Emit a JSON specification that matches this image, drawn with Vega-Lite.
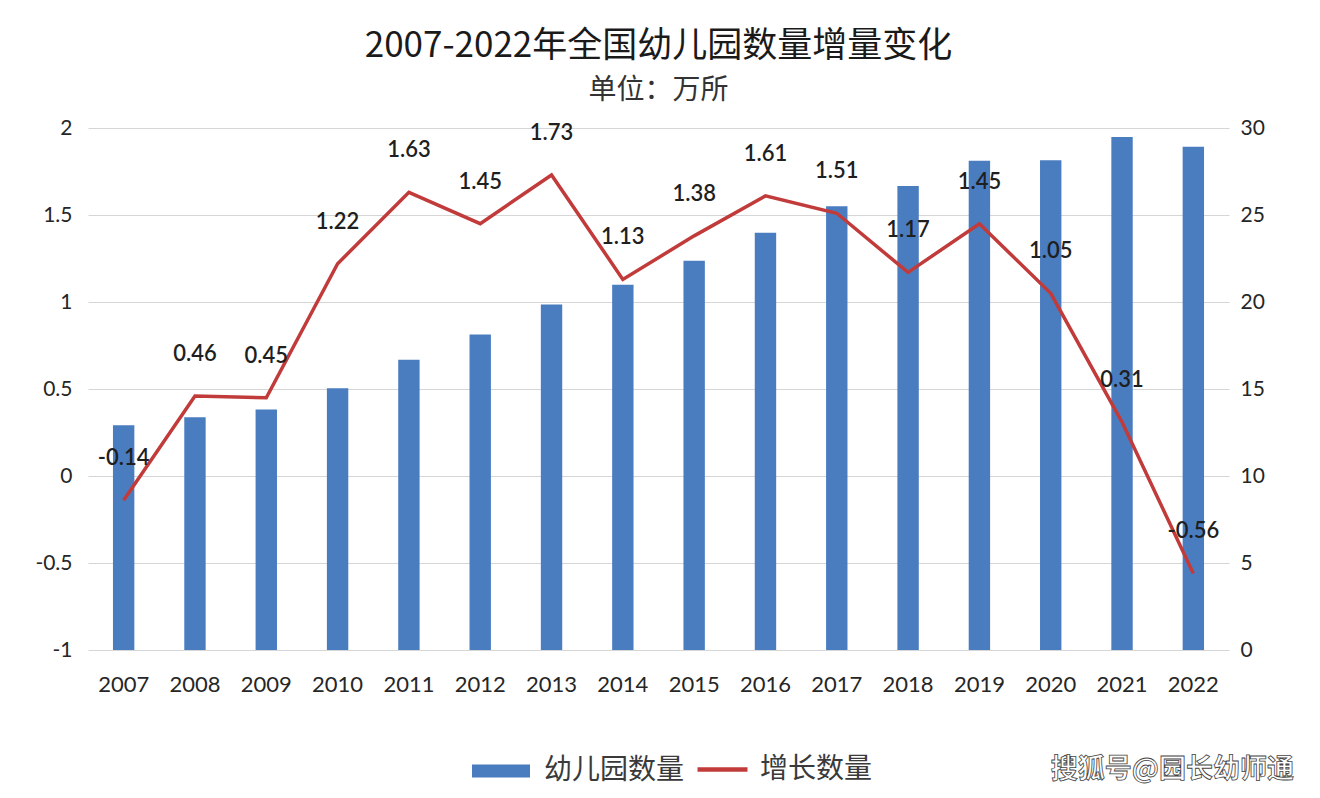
{
  "$schema": "https://vega.github.io/schema/vega-lite/v6.json",
  "width": 1141,
  "height": 522,
  "autosize": "none",
  "padding": {"left": 88, "top": 128, "right": 91, "bottom": 148},
  "background": "#ffffff",
  "title": {
    "text": "2007-2022年全国幼儿园数量增量变化",
    "subtitle": "单位：万所",
    "anchor": "middle",
    "font": "Noto Sans CJK SC",
    "fontSize": 35,
    "fontWeight": "normal",
    "color": "#1a1a1a",
    "subtitleFont": "Noto Sans CJK SC",
    "subtitleFontSize": 28,
    "subtitleColor": "#333333",
    "subtitlePadding": 13,
    "offset": 12
  },
  "data": {
    "values": [
      {"year": "2007", "count": 12.91, "inc": -0.14},
      {"year": "2008", "count": 13.37, "inc": 0.46},
      {"year": "2009", "count": 13.82, "inc": 0.45},
      {"year": "2010", "count": 15.04, "inc": 1.22},
      {"year": "2011", "count": 16.68, "inc": 1.63},
      {"year": "2012", "count": 18.13, "inc": 1.45},
      {"year": "2013", "count": 19.86, "inc": 1.73},
      {"year": "2014", "count": 20.99, "inc": 1.13},
      {"year": "2015", "count": 22.37, "inc": 1.38},
      {"year": "2016", "count": 23.98, "inc": 1.61},
      {"year": "2017", "count": 25.5, "inc": 1.51},
      {"year": "2018", "count": 26.67, "inc": 1.17},
      {"year": "2019", "count": 28.12, "inc": 1.45},
      {"year": "2020", "count": 28.14, "inc": 1.05},
      {"year": "2021", "count": 29.48, "inc": 0.31},
      {"year": "2022", "count": 28.92, "inc": -0.56}
    ]
  },
  "encoding": {
    "x": {
      "field": "year",
      "type": "ordinal",
      "scale": {"paddingInner": 0.7, "paddingOuter": 0.35},
      "axis": {
        "title": null,
        "labelAngle": 0,
        "domain": false,
        "ticks": false,
        "grid": false,
        "labelFont": "Lato",
        "labelFontSize": 22,
        "labelColor": "#262626",
        "labelPadding": 24
      }
    }
  },
  "layer": [
    {
      "mark": {"type": "bar"},
      "encoding": {
        "y": {
          "field": "count",
          "type": "quantitative",
          "scale": {"domain": [0, 30]},
          "axis": {
            "orient": "right",
            "title": null,
            "values": [0, 5, 10, 15, 20, 25, 30],
            "labelExpr": "'' + datum.value",
            "domain": false,
            "ticks": false,
            "grid": false,
            "labelFont": "Lato",
            "labelFontSize": 21,
            "labelColor": "#262626",
            "labelPadding": 11
          }
        },
        "fill": {
          "datum": "幼儿园数量",
          "scale": {"range": ["#4a7dc0"]},
          "legend": {
            "title": null,
            "orient": "none",
            "legendX": 384,
            "legendY": 614,
            "symbolType": "M-1,-0.22H1V0.22H-1Z",
            "symbolSize": 3364,
            "symbolStrokeWidth": 0,
            "labelFont": "Noto Sans CJK SC",
            "labelFontSize": 28,
            "labelColor": "#3a3a3a",
            "labelOffset": 14
          }
        }
      }
    },
    {
      "mark": {"type": "line", "strokeWidth": 3.5},
      "encoding": {
        "y": {
          "field": "inc",
          "type": "quantitative",
          "scale": {"domain": [-1, 2]},
          "axis": {
            "orient": "left",
            "title": null,
            "values": [-1, -0.5, 0, 0.5, 1, 1.5, 2],
            "labelExpr": "'' + datum.value",
            "domain": false,
            "ticks": false,
            "grid": true,
            "gridColor": "#d6d6d6",
            "gridWidth": 1,
            "labelFont": "Lato",
            "labelFontSize": 21,
            "labelColor": "#262626",
            "labelPadding": 16
          }
        },
        "stroke": {
          "datum": "增长数量",
          "scale": {"range": ["#c23b3b"]},
          "legend": {
            "title": null,
            "orient": "none",
            "legendX": 607,
            "legendY": 614,
            "symbolType": "stroke",
            "symbolSize": 2500,
            "symbolStrokeWidth": 4.5,
            "labelFont": "Noto Sans CJK SC",
            "labelFontSize": 28,
            "labelColor": "#3a3a3a",
            "labelOffset": 10
          }
        }
      }
    },
    {
      "mark": {"type": "text", "dy": -42, "font": "Lato", "fontSize": 22, "fontWeight": 600, "color": "#1f1f1f"},
      "encoding": {
        "y": {"field": "inc", "type": "quantitative", "scale": {"domain": [-1, 2]}, "axis": null},
        "text": {"field": "inc", "type": "nominal"}
      }
    },
    {
      "data": {"values": [{"wm": "搜狐号@园长幼师通", "year": "2022", "pos": 0}]},
      "mark": {"type": "text", "dx": -21, "dy": 120, "font": "Noto Sans CJK SC", "fontSize": 27, "fontWeight": "bold", "fill": "#ffffff", "stroke": "#444444", "strokeWidth": 0.8},
      "encoding": {
        "x": {"field": "year", "type": "ordinal"},
        "y": {"field": "pos", "type": "quantitative", "scale": {"domain": [0, 30]}, "axis": null},
        "text": {"field": "wm"}
      }
    }
  ],
  "resolve": {"scale": {"y": "independent", "fill": "independent", "stroke": "independent"}},
  "config": {"view": {"stroke": null}}
}
